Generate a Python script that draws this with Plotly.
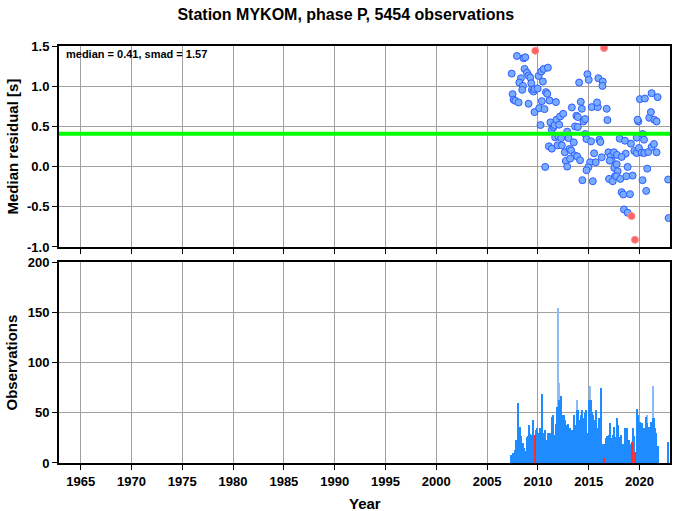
import plotly.graph_objects as go

# ---------------- data ----------------
title_text = "Station MYKOM, phase P, 5454 observations"
median_value = 0.41
smad_value = 1.57

res_year = [2007.42, 2007.94, 2008.59, 2008.76, 2008.69, 2008.92, 2009.08, 2009.25, 2008.33, 2008.17,
            2008.53, 2008.46, 2009.35, 2009.41, 2009.57, 2009.67, 2009.97, 2007.51, 2007.61, 2007.78,
            2008.10, 2009.08, 2009.67, 2010.13, 2010.65, 2010.07, 2010.33, 2010.56, 2010.98, 2010.49,
            2010.79, 2010.92, 2010.39, 2011.14, 2011.77, 2010.26, 2010.72,
            2011.24, 2011.37, 2011.54, 2011.64, 2011.83, 2012.09, 2012.19, 2012.49, 2011.70, 2012.03,
            2012.29, 2013.01, 2012.88, 2013.53, 2011.08, 2011.37, 2011.93, 2012.36, 2012.65, 2013.11,
            2013.27, 2013.60, 2013.86, 2012.75, 2012.88, 2013.17, 2014.15, 2013.34, 2013.79, 2013.93,
            2014.32, 2014.22, 2014.06, 2013.66, 2013.93, 2014.48, 2014.65, 2014.65, 2014.78, 2015.23,
            2014.38, 2014.87, 2015.00,
            2015.30, 2015.89, 2015.82, 2016.77, 2016.84, 2015.95, 2016.38, 2016.35, 2016.05, 2016.15,
            2016.28, 2015.14, 2014.97, 2014.78, 2015.53, 2015.69, 2015.40, 2016.94, 2017.16, 2017.26,
            2017.49, 2017.79, 2017.07, 2017.52, 2017.75, 2017.85, 2017.59, 2017.00, 2017.36, 2017.72,
            2018.11, 2018.05, 2018.57, 2019.16, 2018.64, 2018.24, 2018.83, 2019.32, 2018.70, 2018.24,
            2018.41, 2019.06, 2018.47, 2018.83,
            2019.72, 2019.88, 2019.81, 2020.04, 2020.53, 2021.19, 2021.78, 2019.49, 2019.72, 2019.94,
            2020.21, 2020.47, 2020.86, 2021.19, 2021.42, 2021.68, 2020.30, 2020.44, 2020.96, 2021.12,
            2021.45, 2021.68, 2020.76, 2020.30, 2020.66, 2022.82, 2022.86]
res_value = [1.157, 1.376, 1.347, 1.360, 1.215, 1.169, 1.132, 1.107, 1.099, 1.045,
             1.004, 0.955, 1.037, 0.955, 0.934, 0.963, 0.971, 0.901, 0.831, 0.818,
             0.798, 0.781, 0.678, 0.727, 0.715, 1.128, 1.182, 1.215, 1.231, 1.058,
             0.926, 0.905, 0.814, 0.822, 0.802, 0.517, -0.004,
             0.550, 0.459, 0.492, 0.517, 0.583, 0.521, 0.624, 0.657, 0.364, 0.376,
             0.355, 0.355, 0.434, 0.302, 0.252, 0.223, 0.264, 0.264, 0.178, 0.219,
             0.202, 0.140, 0.128, 0.070, 0.000, 0.099, 0.079, 0.736, 0.632, 0.616,
             0.719, 0.806, 1.045, 0.500, 0.492, 0.562, 0.591, 0.405, 0.343, 0.314,
             -0.169, 1.149, 1.079,
             0.740, 0.740, 0.798, 0.719, 0.579, 1.099, 1.058, 1.004, 0.335, 0.306,
             0.116, 0.054, -0.008, -0.045, 0.165, 0.054, -0.182, 0.178, 0.128, 0.074,
             0.178, 0.145, 0.074, -0.017, 0.029, -0.058, -0.120, -0.153, -0.182, -0.120,
             -0.153, 0.347, 0.322, 0.285, 0.161, 0.120, -0.004, -0.112, -0.120, -0.318,
             -0.347, -0.343, -0.533, -0.574,
             0.360, 0.562, 0.583, 0.839, 0.847, 0.913, 0.864, 0.194, 0.169, 0.231,
             0.174, 0.169, 0.182, 0.244, 0.281, 0.178, 0.405, 0.335, 0.607, 0.678,
             0.583, 0.562, -0.025, -0.169, -0.302, -0.161, -0.640]

out_year = [2009.74, 2016.51, 2019.22, 2019.55]
out_value = [1.44, 1.475, -0.616, -0.91]

obs_year = [2007.39, 2007.55, 2007.71, 2007.88, 2008.01, 2008.11, 2008.24, 2008.37, 2008.50, 2008.63,
            2008.76, 2008.89, 2009.02, 2009.15, 2009.28, 2009.41, 2009.55, 2009.81, 2009.94, 2010.07,
            2010.20, 2010.33, 2010.46, 2010.59, 2010.72, 2010.85, 2010.98, 2011.12, 2011.25, 2011.38,
            2011.51, 2011.64, 2011.77, 2011.90, 2011.99, 2012.08, 2012.19, 2012.29, 2012.42, 2012.55,
            2012.69, 2012.82, 2012.95, 2013.08, 2013.21, 2013.34, 2013.47, 2013.60, 2013.73, 2013.86,
            2013.99, 2014.12, 2014.26, 2014.39, 2014.52, 2014.62, 2014.75, 2014.88, 2015.01, 2015.11,
            2015.20, 2015.30, 2015.43, 2015.56, 2015.69, 2015.83, 2015.96, 2016.05, 2016.15, 2016.25,
            2016.38, 2016.58, 2016.71, 2016.84, 2016.97, 2017.10, 2017.23, 2017.36, 2017.49, 2017.63,
            2017.76, 2017.89, 2018.02, 2018.15, 2018.28, 2018.41, 2018.54, 2018.67, 2018.80, 2018.93,
            2019.06, 2019.33, 2019.45, 2019.72, 2019.82, 2019.95, 2020.08, 2020.21, 2020.37, 2020.50,
            2020.63, 2020.77, 2020.90, 2021.03, 2021.16, 2021.29, 2021.42, 2021.55, 2021.68, 2021.81,
            2022.86]
obs_total = [8, 10, 13, 23, 60, 30, 36, 27, 20, 15,
             12, 26, 27, 38, 29, 28, 43, 33, 35, 30,
             35, 30, 69, 30, 33, 23, 30, 30, 30, 46,
             48, 28, 39, 56, 154, 80, 52, 67, 48, 48,
             43, 38, 39, 30, 35, 33, 30, 48, 38, 63,
             53, 43, 48, 53, 45, 50, 53, 30, 63, 77,
             63, 51, 48, 43, 53, 35, 28, 45, 31, 75,
             19, 19, 25, 27, 28, 40, 25, 28, 36, 26,
             45, 38, 26, 28, 19, 19, 35, 25, 35, 23,
             19, 35, 27, 54, 48, 30, 41, 40, 31, 35,
             46, 48, 36, 31, 41, 77, 45, 35, 30, 17,
             21]
obs_used = [8, 10, 13, 23, 60, 30, 36, 27, 20, 15,
            12, 26, 27, 38, 29, 28, 43, 33, 35, 30,
            35, 30, 69, 30, 33, 23, 30, 30, 30, 46,
            48, 28, 39, 56, 56, 63, 52, 67, 48, 48,
            43, 38, 39, 30, 35, 33, 30, 48, 38, 53,
            53, 43, 48, 53, 45, 50, 53, 30, 63, 63,
            63, 51, 48, 43, 53, 35, 28, 45, 31, 75,
            19, 19, 25, 27, 28, 40, 25, 28, 36, 26,
            45, 38, 26, 28, 19, 19, 35, 25, 35, 23,
            19, 35, 27, 54, 48, 30, 41, 40, 31, 35,
            46, 40, 36, 31, 41, 45, 45, 35, 30, 17,
            21]

red_obs_year = [2009.68, 2016.48, 2019.23, 2019.56]
red_obs_count = [28, 5, 21, 11]

x_ticks = [1965, 1970, 1975, 1980, 1985, 1990, 1995, 2000, 2005, 2010, 2015, 2020]
res_ticks = [-1.0, -0.5, 0.0, 0.5, 1.0, 1.5]
obs_ticks = [0, 50, 100, 150, 200]

# ---------------- figure ----------------
FONT = "Liberation Sans, Arial, Helvetica, sans-serif"
fig = go.Figure()

fig.add_trace(go.Bar(x=obs_year, y=obs_total, width=0.12, marker=dict(color="#86bdfa", line=dict(width=0)),
                     xaxis="x2", yaxis="y2", showlegend=False))
fig.add_trace(go.Bar(x=obs_year, y=obs_used, width=0.12, marker=dict(color="#1e8cff", line=dict(width=0)),
                     xaxis="x2", yaxis="y2", showlegend=False))
fig.add_trace(go.Bar(x=red_obs_year, y=red_obs_count, width=0.12, marker=dict(color="#ff2a2a", line=dict(width=0)),
                     xaxis="x2", yaxis="y2", showlegend=False))

fig.add_trace(go.Scatter(x=res_year, y=res_value, mode="markers", showlegend=False, cliponaxis=True,
                         marker=dict(size=7, color="#78acff", line=dict(color="#2f5cff", width=1))))
fig.add_trace(go.Scatter(x=out_year, y=out_value, mode="markers", showlegend=False,
                         marker=dict(size=7, color="#ff6464", line=dict(color="#ff8a8a", width=1))))

fig.add_shape(type="line", xref="paper", x0=0, x1=1, yref="y", y0=median_value, y1=median_value,
              line=dict(color="#00ff00", width=4), layer="above")

xr = [1962.87, 2023.0]
axis_common = dict(range=xr, tickvals=x_ticks, showgrid=True, gridcolor="#a0a0a0", gridwidth=1,
                   showline=True, linecolor="black", linewidth=2, mirror=True,
                   ticks="outside", ticklen=5, tickcolor="black", zeroline=False)

fig.update_layout(
    width=678, height=511,
    margin=dict(l=59, r=6, t=46, b=48),
    paper_bgcolor="white", plot_bgcolor="white",
    barmode="overlay", bargap=0,
    font=dict(family=FONT, size=13, color="black"),
    title=dict(text="<b>" + title_text + "</b>", x=0.51, xanchor="center", xref="container",
               y=0.972, yanchor="middle", font=dict(size=16, family=FONT, color="black")),
    xaxis=dict(axis_common, domain=[0, 1], anchor="y", showticklabels=False),
    yaxis=dict(domain=[0.518, 1], range=[-1.0, 1.5], tickvals=res_ticks,
               ticktext=["%.1f" % v for v in res_ticks],
               showgrid=True, gridcolor="#a0a0a0", gridwidth=1,
               showline=True, linecolor="black", linewidth=2, mirror=True,
               ticks="outside", ticklen=5, tickcolor="black", zeroline=False,
               tickfont=dict(size=13, family=FONT, weight="bold")),
    xaxis2=dict(axis_common, domain=[0, 1], anchor="y2", showticklabels=True,
                tickfont=dict(size=13, family=FONT, weight="bold")),
    yaxis2=dict(domain=[0, 0.482], range=[0, 200], tickvals=obs_ticks,
                showgrid=True, gridcolor="#a0a0a0", gridwidth=1,
                showline=True, linecolor="black", linewidth=2, mirror=True,
                ticks="outside", ticklen=5, tickcolor="black", zeroline=False,
                tickfont=dict(size=13, family=FONT, weight="bold")),
)

fig.add_annotation(text="<b>median = %.2f, smad = %.2f</b>" % (median_value, smad_value),
                   xref="paper", yref="paper", x=0, y=1, xshift=5, yshift=-8,
                   xanchor="left", yanchor="middle", showarrow=False,
                   font=dict(size=11, family=FONT, color="black"))
fig.add_annotation(text="<b>Median residual [s]</b>", textangle=-90, xref="paper", yref="paper",
                   x=0, y=0.759, xshift=-47, xanchor="center", yanchor="middle", showarrow=False,
                   font=dict(size=15, family=FONT, color="black"))
fig.add_annotation(text="<b>Observations</b>", textangle=-90, xref="paper", yref="paper",
                   x=0, y=0.241, xshift=-47, xanchor="center", yanchor="middle", showarrow=False,
                   font=dict(size=15, family=FONT, color="black"))
fig.add_annotation(text="<b>Year</b>", xref="paper", yref="paper", x=0.5, y=0, yshift=-40,
                   xanchor="center", yanchor="middle", showarrow=False,
                   font=dict(size=15, family=FONT, color="black"))

fig.write_html("out.html", config={"displayModeBar": False},
               post_script="document.body.style.margin='0';document.body.style.padding='0';")
